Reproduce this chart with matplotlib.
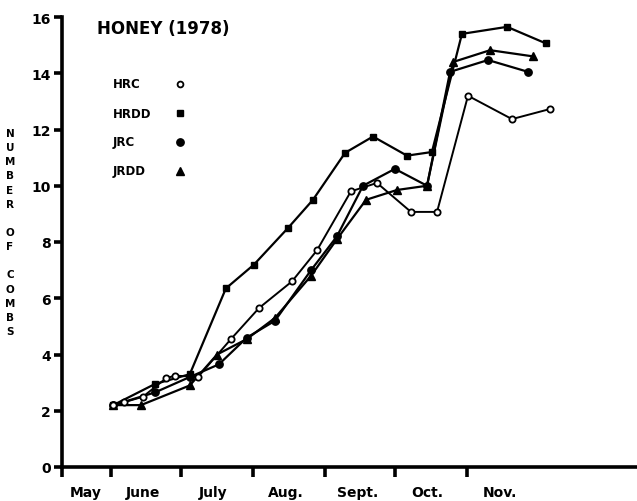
import numpy as np
import matplotlib
matplotlib.use("Agg")
import matplotlib.pyplot as plt

plt.rcParams['font.family'] = ['DejaVu Sans']
plt.rcParams['font.weight'] = 'bold'

# x = days after April 30 (June 1 = 31, July 1 = 61 ...)
hrc_day = [32, 36.6, 44.8, 54.6, 58.5, 68.4, 82.6, 94.6, 108.8, 119.5, 134.1, 145.3, 159.9, 171.1, 184.4, 203.3, 219.7]
hrc_val = [2.2, 2.3, 2.5, 3.15, 3.25, 3.2, 4.55, 5.65, 6.6, 7.7, 9.8, 10.1, 9.07, 9.07, 13.2, 12.37, 12.73]

hrdd_day = [32, 49.9, 64.9, 80.4, 92.5, 107.1, 117.8, 131.6, 143.6, 158.2, 168.9, 181.8, 201.2, 217.9]
hrdd_val = [2.2, 2.95, 3.3, 6.35, 7.2, 8.5, 9.5, 11.17, 11.75, 11.07, 11.2, 15.4, 15.65, 15.06]

jrc_day = [32, 49.9, 64.9, 77.4, 89.4, 101.5, 117, 128.1, 139.3, 153, 166.8, 176.7, 193, 210.2]
jrc_val = [2.2, 2.65, 3.2, 3.65, 4.6, 5.2, 7.0, 8.2, 10.0, 10.6, 10.0, 14.05, 14.47, 14.05]

jrdd_day = [32, 43.9, 64.9, 76.6, 89.4, 101.5, 117, 128.1, 140.6, 153.9, 166.8, 178, 193.9, 212.3]
jrdd_val = [2.2, 2.2, 2.9, 4.0, 4.55, 5.3, 6.8, 8.1, 9.5, 9.85, 10.0, 14.4, 14.82, 14.6]

month_edges = [10, 31, 61, 92, 123, 153, 184]
month_mids = [20, 45, 75, 106, 137, 167, 198]
month_names = ['May', 'June', 'July', 'Aug.', 'Sept.', 'Oct.', 'Nov.']
series_names = ['HRC', 'HRDD', 'JRC', 'JRDD']

fig = plt.figure(figsize=(6.37, 5.02), dpi=100)
ax = fig.add_axes([62/637, 34/502, 1 - 62/637, (468-18)/502])

ax.plot(hrdd_day, hrdd_val, '-', color='black', lw=1.6, marker='s', ms=4.8, zorder=3)
ax.plot(jrc_day, jrc_val, '-', color='black', lw=1.6, marker='o', ms=5.3, zorder=3)
ax.plot(jrdd_day, jrdd_val, '-', color='black', lw=1.6, marker='^', ms=5.8, zorder=3)
ax.plot(hrc_day, hrc_val, '-', color='black', lw=1.4, marker='o', ms=4.5,
        mfc='white', mec='black', mew=1.3, zorder=4)

ax.set_xlim(10, 257)
ax.set_ylim(0, 16)
for s in ['top', 'right']:
    ax.spines[s].set_visible(False)
for s in ['left', 'bottom']:
    ax.spines[s].set_linewidth(2.6)

ax.set_yticks(np.arange(0, 17, 2))
ax.tick_params(axis='y', direction='out', length=6, width=2.6, labelsize=10, pad=2)
ax.set_xticks(month_edges)
ax.set_xticklabels([''] * len(month_edges))
ax.tick_params(axis='x', which='major', direction='out', length=7, width=2.6)
ax.set_xticks(month_mids, minor=True)
ax.set_xticklabels(month_names, minor=True, fontsize=10, fontweight='bold')
ax.tick_params(axis='x', which='minor', length=0, pad=13)
for lab in ax.get_yticklabels():
    lab.set_fontweight('bold')

fig.text(97/637, 1 - 29/502, 'HONEY (1978)', fontsize=12, fontweight='bold',
         ha='left', va='center')

# legend drawn by hand: text left aligned, markers in one column
leg_style = [dict(marker='o', mfc='white', mec='black', mew=1.3, ms=4.2),
             dict(marker='s', color='black', ms=4.8),
             dict(marker='o', color='black', ms=5.3),
             dict(marker='^', color='black', ms=5.8)]
for i, name in enumerate(series_names):
    ypix = 85 + i * 29
    fig.text(113/637, 1 - ypix/502, name, fontsize=8.5, fontweight='bold',
             ha='left', va='center')
    fig.lines.append(plt.Line2D([180/637], [1 - ypix/502], transform=fig.transFigure,
                                linestyle='none', **leg_style[i]))

fig.text(10/637, 1 - 233/502, '\n'.join(list('NUMBER OF COMBS')), fontsize=7.5,
         fontweight='bold', ha='center', va='center', linespacing=1.52)

fig.savefig('out.png', dpi=100)
